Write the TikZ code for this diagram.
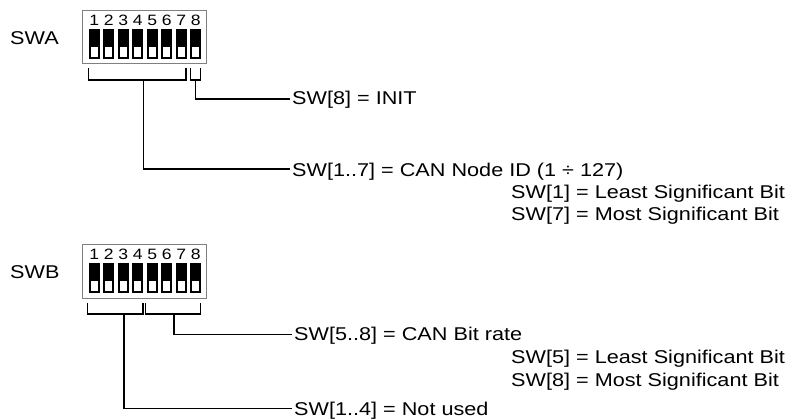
\documentclass[tikz,border=0pt]{standalone}
\usepackage{fontspec}
\setmainfont{Liberation Sans}[FakeStretch=1.17]
\tikzset{
  lbl/.style={font=\fontsize{18.5}{22}\selectfont, inner sep=0pt, anchor=base west},
  num/.style={font=\fontsize{15}{17}\selectfont, inner sep=0pt, anchor=base},
  dipbox/.style={draw=black!50, line width=1pt},
  wire/.style={line width=1.2pt, line cap=rect},
}
\begin{document}
\begin{tikzpicture}[x=1pt,y=-1pt]
\useasboundingbox (0,0) rectangle (795,419);
% ---------- SWA ----------
\node[lbl] (swa) at (10,45) {SWA};
\draw[dipbox] (82,11) rectangle (206,64);
\foreach \i in {1,...,8}{
  \pgfmathsetmacro\xx{88.7+(\i-1)*14.47}
  \fill[black] (\xx,29.3) rectangle ++(11.3,29.4);
  \fill[white] (\xx+2.1,46.7) rectangle ++(7.1,10.3);
  \node[num] (a\i) at (\xx+5.65,26) {\i};
}
% brackets
\draw[wire] (88.7,69) -- (88.7,80) -- (186,80) -- (186,69);
\draw[wire] (190.5,69) -- (190.5,80) -- (200.7,80) -- (200.7,69);
\coordinate (sa17) at (143.3,80);
\coordinate (sa8) at (195.6,80);
\node[lbl] (ainit) at (292,105) {SW[8] = INIT};
\node[lbl] (aid) at (292,177) {SW[1..7] = CAN Node ID (1 ÷ 127)};
\node[lbl] (alsb) at (511,199) {SW[1] = Least Significant Bit};
\node[lbl] (amsb) at (511,221) {SW[7] = Most Significant Bit};
\draw[wire] (sa8) |- ([xshift=-3pt,yshift=6pt]ainit.base west);
\draw[wire] (sa17) |- ([xshift=-3pt,yshift=8pt]aid.base west);
% ---------- SWB ----------
\node[lbl] (swb) at (10,279) {SWB};
\draw[dipbox] (82,245) rectangle (206,298.5);
\foreach \i in {1,...,8}{
  \pgfmathsetmacro\xx{88.7+(\i-1)*14.47}
  \fill[black] (\xx,263.3) rectangle ++(11.3,29.6);
  \fill[white] (\xx+2.1,280.7) rectangle ++(7.1,10.3);
  \node[num] (b\i) at (\xx+5.65,260) {\i};
}
\draw[wire] (87.5,304) -- (87.5,314) -- (143,314) -- (143,304);
\draw[wire] (145.5,304) -- (145.5,314) -- (200.7,314) -- (200.7,304);
\coordinate (sb14) at (124,314);
\coordinate (sb58) at (174,314);
\node[lbl] (brate) at (294,341) {SW[5..8] = CAN Bit rate};
\node[lbl] (blsb) at (511,364) {SW[5] = Least Significant Bit};
\node[lbl] (bmsb) at (511,386) {SW[8] = Most Significant Bit};
\node[lbl] (bnot) at (294,415) {SW[1..4] = Not used};
\draw[wire] (sb58) |- ([xshift=-3pt,yshift=6.5pt]brate.base west);
\draw[wire] (sb14) |- ([xshift=-3pt,yshift=6.5pt]bnot.base west);
\end{tikzpicture}
\end{document}
